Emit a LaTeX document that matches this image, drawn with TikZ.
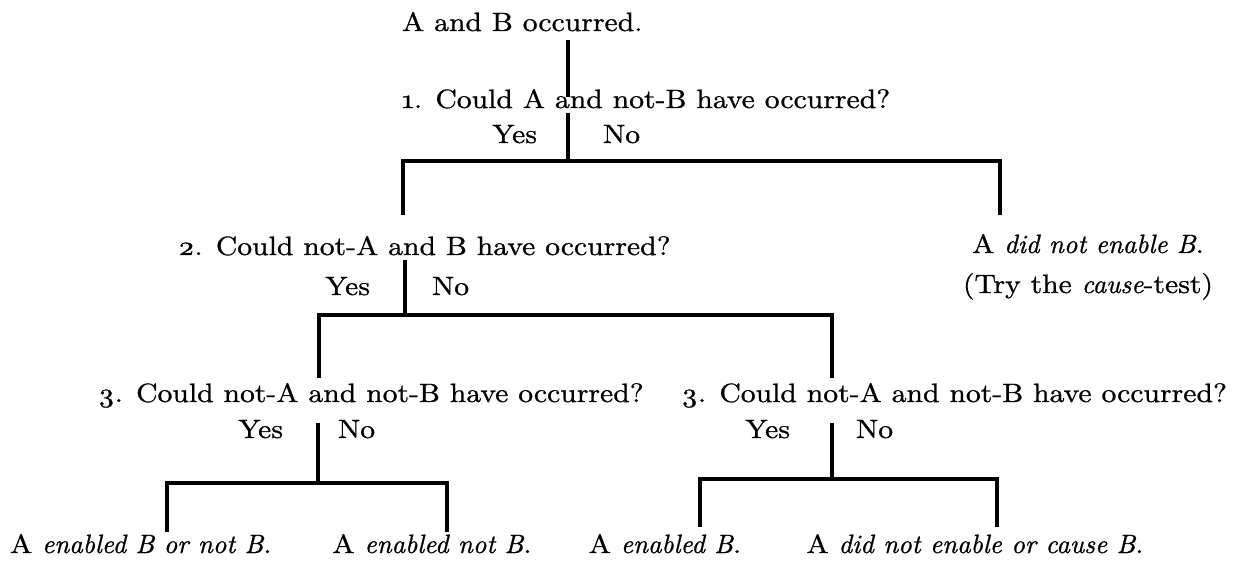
\documentclass[tikz,border=0pt]{standalone}
\usepackage{fontspec}
\setmainfont{lmroman10}[Extension=.otf, UprightFont=*-regular, ItalicFont=*-italic, UprightFeatures={FakeStretch=1.12, FakeBold=0.9}, ItalicFeatures={FakeStretch=1.0, FakeBold=0.9}]
\begin{document}
\begin{tikzpicture}[x=1pt,y=-1pt,
  txt/.style={inner sep=0pt, outer sep=0pt, font=\fontsize{26.5}{30}\selectfont},
  branch/.style={line width=3.6pt, line cap=rect, line join=miter, draw=black}]
\useasboundingbox (0,0) rectangle (1235,561);

% texts
\node[txt, anchor=base west] (q0) at (402,31) {A and B occurred.};
\node[txt, anchor=base west] (q1) at (402,108) {\oldstylenums{1}. Could A and not-B have occurred?};
\node[txt, anchor=base east] (y1) at (537,143) {Yes};
\node[txt, anchor=base west] (n1) at (603,143) {No};

\node[txt, anchor=base west] (q2) at (178,255) {\oldstylenums{2}. Could not-A and B have occurred?};
\node[txt, anchor=base] (r2a) at (1088,253) {A \textit{did not enable B}.};
\node[txt, anchor=base] (r2b) at (1088,293) {(Try the \textit{cause}-test)};
\node[txt, anchor=base east] (y2) at (370,295) {Yes};
\node[txt, anchor=base west] (n2) at (432,295) {No};

\node[txt, anchor=base west] (q3l) at (98,402) {\oldstylenums{3}. Could not-A and not-B have occurred?};
\node[txt, anchor=base east] (q3r) at (1227,402) {\oldstylenums{3}. Could not-A and not-B have occurred?};
\node[txt, anchor=base east] (y3l) at (283,438) {Yes};
\node[txt, anchor=base west] (n3l) at (338,438) {No};
\node[txt, anchor=base east] (y3r) at (790,438) {Yes};
\node[txt, anchor=base west] (n3r) at (856,438) {No};

\node[txt, anchor=base west] (l1) at (10,553) {A \textit{enabled B or not B}.};
\node[txt, anchor=base] (l2) at (432,553) {A \textit{enabled not B}.};
\node[txt, anchor=base] (l3) at (665,553) {A \textit{enabled B}.};
\node[txt, anchor=base] (l4) at (975,553) {A \textit{did not enable or cause B}.};

% line end points
\coordinate (s0a) at (568,42);
\coordinate (s0b) at (568,95);
\coordinate (s1a) at (568,115);
\coordinate (j1) at (568,161);
\coordinate (b1l) at (403,213);
\coordinate (b1r) at (1000,213);

\coordinate (s2a) at (405,262);
\coordinate (j2) at (405,315);
\coordinate (b2l) at (319,376);
\coordinate (b2r) at (832,376);

\coordinate (s3la) at (318,425);
\coordinate (j3l) at (318,483);
\coordinate (b3ll) at (167,530);
\coordinate (b3lr) at (447,530);

\coordinate (s3ra) at (832,425);
\coordinate (j3r) at (832,479);
\coordinate (b3rl) at (700,525);
\coordinate (b3rr) at (997,525);

% connectors
\draw[branch] (s0a) -- (s0b);
\draw[branch] (s1a) -- (j1);
\draw[branch] (b1l) |- (j1) -| (b1r);

\draw[branch] (s2a) -- (j2);
\draw[branch] (b2l) |- (j2) -| (b2r);

\draw[branch] (s3la) -- (j3l);
\draw[branch] (b3ll) |- (j3l) -| (b3lr);

\draw[branch] (s3ra) -- (j3r);
\draw[branch] (b3rl) |- (j3r) -| (b3rr);
\end{tikzpicture}
\end{document}
